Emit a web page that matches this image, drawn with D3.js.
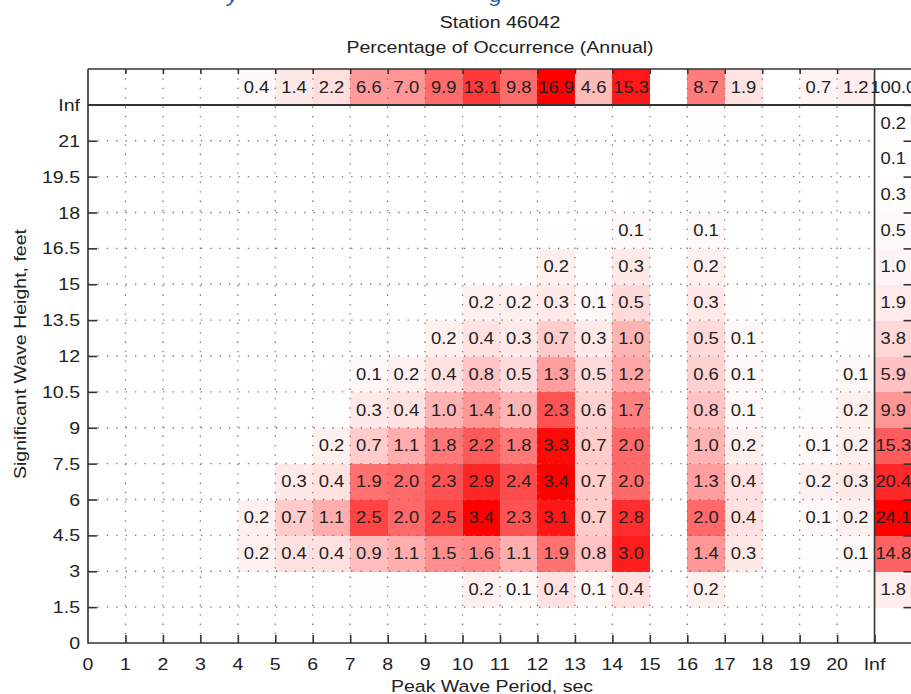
<!DOCTYPE html>
<html>
<head>
<meta charset="utf-8">
<script src="https://cdn.jsdelivr.net/npm/d3@7"></script>
<style>
  html, body { margin: 0; padding: 0; background: #ffffff; overflow: hidden; }
  svg { display: block; }
  text { font-family: "Liberation Sans", Arial, Helvetica, sans-serif; }
</style>
</head>
<body>
<svg id="chart" width="911" height="694"></svg>
<script>
// ---------------- DATA ----------------
const chartTitle = ["Station 46042", "Percentage of Occurrence (Annual)"];
const xAxisTitle = "Peak Wave Period, sec";
const yAxisTitle = "Significant Wave Height, feet";

// tick labels (period bin edges, sec) and (wave height bin edges, feet)
const periodLabels = ["0","1","2","3","4","5","6","7","8","9","10","11","12","13","14","15","16","17","18","19","20","Inf"];
const heightLabels = ["0","1.5","3","4.5","6","7.5","9","10.5","12","13.5","15","16.5","18","19.5","21","Inf"];

// percentage per cell; one array per wave height bin, 21 period bins (0-1 ... 20-Inf)
// values below 0.05 are shown shaded but without a label
const h0_1_5   = [0,0,0,0,0,0,0,0,0,0,0,0,0,0,0,0,0,0,0,0,0];
const h1_5_3   = [0,0,0,0,0,0,0,0.03,0.03,0.03,0.2,0.1,0.4,0.1,0.4,0,0.2,0,0,0,0];
const h3_4_5   = [0,0,0,0,0.2,0.4,0.4,0.9,1.1,1.5,1.6,1.1,1.9,0.8,3.0,0,1.4,0.3,0,0.03,0.1];
const h4_5_6   = [0,0,0,0,0.2,0.7,1.1,2.5,2.0,2.5,3.4,2.3,3.1,0.7,2.8,0,2.0,0.4,0,0.1,0.2];
const h6_7_5   = [0,0,0,0,0,0.3,0.4,1.9,2.0,2.3,2.9,2.4,3.4,0.7,2.0,0,1.3,0.4,0,0.2,0.3];
const h7_5_9   = [0,0,0,0,0,0.03,0.2,0.7,1.1,1.8,2.2,1.8,3.3,0.7,2.0,0,1.0,0.2,0,0.1,0.2];
const h9_10_5  = [0,0,0,0,0,0,0.03,0.3,0.4,1.0,1.4,1.0,2.3,0.6,1.7,0,0.8,0.1,0,0.03,0.2];
const h10_5_12 = [0,0,0,0,0,0,0.03,0.1,0.2,0.4,0.8,0.5,1.3,0.5,1.2,0,0.6,0.1,0,0,0.1];
const h12_13_5 = [0,0,0,0,0,0,0,0,0.03,0.2,0.4,0.3,0.7,0.3,1.0,0,0.5,0.1,0,0,0.03];
const h13_5_15 = [0,0,0,0,0,0,0,0,0,0.03,0.2,0.2,0.3,0.1,0.5,0,0.3,0.03,0,0,0];
const h15_16_5 = [0,0,0,0,0,0,0,0,0,0,0.03,0.03,0.2,0.03,0.3,0,0.2,0,0,0,0];
const h16_5_18 = [0,0,0,0,0,0,0,0,0,0,0,0,0.03,0.03,0.1,0,0.1,0,0,0,0];
const h18_19_5 = [0,0,0,0,0,0,0,0,0,0,0,0,0,0,0.03,0,0.03,0,0,0,0];
const h19_5_21 = [0,0,0,0,0,0,0,0,0,0,0,0,0,0,0,0,0.03,0,0,0,0];
const h21_inf  = [0,0,0,0,0,0,0,0,0,0,0,0,0,0,0,0,0.03,0,0,0,0];
const heightRows = [h0_1_5,h1_5_3,h3_4_5,h4_5_6,h6_7_5,h7_5_9,h9_10_5,h10_5_12,h12_13_5,h13_5_15,h15_16_5,h16_5_18,h18_19_5,h19_5_21,h21_inf];

// marginal totals
const periodTotals = [0,0,0,0,0.4,1.4,2.2,6.6,7.0,9.9,13.1,9.8,16.9,4.6,15.3,0,8.7,1.9,0,0.7,1.2];
const heightTotals = [0,1.8,14.8,24.1,20.4,15.3,9.9,5.9,3.8,1.9,1.0,0.5,0.3,0.1,0.2];
const grandTotal = 100.0;

// ---------------- LAYOUT ----------------
const SX = 1.15;               // horizontal glyph widening to match reference font
const nCols = periodLabels.length - 1;   // 21 period bins
const nRows = heightLabels.length - 1;   // 15 height bins

const svg = d3.select("#chart");
const x = d3.scaleLinear().domain([0, nCols + 1]).range([88, 912]);
const y = d3.scaleLinear().domain([0, nRows + 1]).range([643, 69]);
const cw = x(1) - x(0), ch = y(0) - y(1);

const gridMax = d3.max(heightRows.flat());
const cGrid = d3.scaleLinear().domain([0, gridMax]).range(["#ffffff", "#ff0000"]).clamp(true);
const cColT = d3.scaleLinear().domain([0, d3.max(periodTotals)]).range(["#ffffff", "#ff0000"]);
const cRowT = d3.scaleLinear().domain([0, d3.max(heightTotals)]).range(["#ffffff", "#ff0000"]);

function txt(g, px, py, s, size, anchor, fill, rot) {
  return g.append("text")
    .attr("transform", `translate(${px},${py})` + (rot ? ` rotate(${rot})` : "") + ` scale(${SX},1)`)
    .attr("text-anchor", anchor)
    .attr("font-size", size)
    .attr("fill", fill)
    .text(s);
}

// clipped blue text line from the page above
const gTop = svg.append("g");
txt(gTop, 233, 2, "y", 20, "middle", "#2b59a6").attr("font-style", "italic");
txt(gTop, 496, 2, "g", 20, "middle", "#2b59a6").attr("font-style", "italic");

// ---------------- CELLS ----------------
const cells = [];
heightRows.forEach((row, r) => row.forEach((v, c) => cells.push({r, c, v, col: cGrid(v)})));
periodTotals.forEach((v, c) => cells.push({r: nRows, c, v, col: cColT(v), total: true}));
heightTotals.forEach((v, r) => cells.push({r, c: nCols, v, col: cRowT(v), total: true}));
cells.push({r: nRows, c: nCols, v: grandTotal, col: "#ffffff", total: true});

const gc = svg.append("g").attr("shape-rendering", "crispEdges");
gc.selectAll("rect").data(cells.filter(d => d.v > 0)).join("rect")
  .attr("x", d => x(d.c)).attr("y", d => y(d.r + 1))
  .attr("width", cw + 0.5).attr("height", ch + 0.5)
  .attr("fill", d => d.col);

// ---------------- GRID (dotted) ----------------
const gg = svg.append("g").attr("stroke", "#777777").attr("stroke-width", 1.3)
  .attr("stroke-dasharray", "1.3,8.1");
gg.selectAll("line.v").data(d3.range(1, nCols)).join("line").attr("class", "v")
  .attr("x1", d => x(d)).attr("x2", d => x(d)).attr("y1", y(nRows + 1)).attr("y2", y(0));
gg.selectAll("line.h").data(d3.range(1, nRows)).join("line").attr("class", "h")
  .attr("x1", x(0)).attr("x2", x(nCols)).attr("y1", d => y(d)).attr("y2", d => y(d));

// ---------------- AXES / FRAME ----------------
const axCol = "#333333";
const axB = svg.append("g").attr("transform", `translate(0,${y(0)})`)
  .call(d3.axisBottom(x).tickValues(d3.range(1, nCols + 1)).tickSize(-8).tickFormat(""));
const axT = svg.append("g").attr("transform", `translate(0,${y(nRows + 1)})`)
  .call(d3.axisTop(x).tickValues(d3.range(1, nCols)).tickSize(-5).tickFormat(""));
const axL = svg.append("g").attr("transform", `translate(${x(0)},0)`)
  .call(d3.axisLeft(y).tickValues(d3.range(1, nRows)).tickSize(-9).tickFormat(""));
const axR = svg.append("g").attr("transform", `translate(${x(nCols + 1) - 0.5},0)`)
  .call(d3.axisRight(y).tickValues(d3.range(1, nRows + 1)).tickSize(-8).tickFormat(""));
[axB, axT, axL, axR].forEach(a => {
  a.select(".domain").remove();
  a.selectAll(".tick line").attr("stroke", axCol).attr("stroke-width", 1.6);
});

const fr = svg.append("g").attr("stroke", axCol).attr("fill", "none");
fr.append("line").attr("x1", x(0)).attr("x2", x(0)).attr("y1", y(nRows + 1)).attr("y2", y(0) + 0.8).attr("stroke-width", 1.6);
fr.append("line").attr("x1", x(0)).attr("x2", 912).attr("y1", y(0)).attr("y2", y(0)).attr("stroke-width", 1.6);
fr.append("line").attr("x1", x(0)).attr("x2", 912).attr("y1", y(nRows + 1)).attr("y2", y(nRows + 1)).attr("stroke-width", 1.4);
fr.append("line").attr("x1", x(0)).attr("x2", 912).attr("y1", y(nRows)).attr("y2", y(nRows)).attr("stroke-width", 2);
fr.append("line").attr("x1", x(nCols)).attr("x2", x(nCols)).attr("y1", y(nRows + 1)).attr("y2", y(0)).attr("stroke-width", 1.6);

// ---------------- CELL LABELS ----------------
const gt = svg.append("g");
cells.filter(d => d.v >= 0.05).forEach(d => {
  txt(gt, x(d.c) + cw / 2, y(d.r + 0.5) + 5.8, d.v.toFixed(1), 16, "middle", "#222222");
});

// ---------------- TICK LABELS ----------------
const gl = svg.append("g");
heightLabels.forEach((s, i) => txt(gl, 80, y(i) + 6, s, 17, "end", "#222"));
periodLabels.forEach((s, i) => txt(gl, x(i), 670, s, 17, "middle", "#222"));

// ---------------- TITLES ----------------
txt(gl, 500, 28, chartTitle[0], 17, "middle", "#222");
txt(gl, 500, 53, chartTitle[1], 17, "middle", "#222");
txt(gl, 492, 692, xAxisTitle, 17, "middle", "#222");
txt(gl, 26, 354, yAxisTitle, 17, "middle", "#222", -90);
</script>
</body>
</html>
